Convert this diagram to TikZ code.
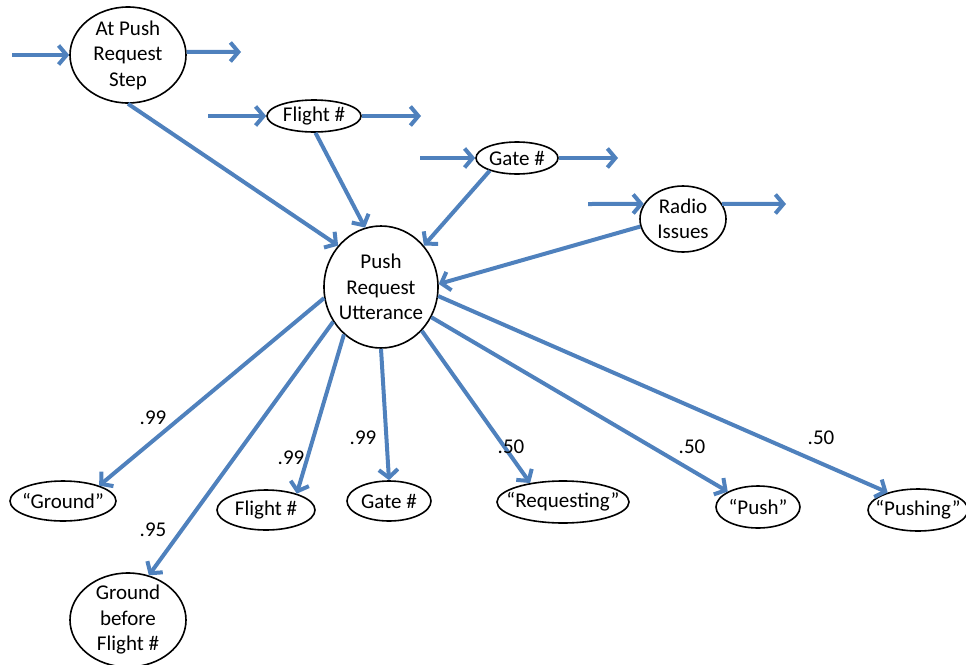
\documentclass[tikz,border=0pt]{standalone}
\usepackage{fontspec}
\setmainfont{Carlito}
\usetikzlibrary{shapes.geometric,arrows.meta}
\definecolor{arr}{HTML}{4F81BD}
\begin{document}
\begin{tikzpicture}[x=1pt,y=-1pt,
  el/.style={draw=black, line width=1.6pt, ellipse, inner sep=0pt, fill=white},
  txt/.style={align=center, inner sep=0pt, font=\fontsize{21}{25.5}\selectfont},
  lab/.style={inner sep=0pt, font=\fontsize{21}{24}\selectfont},
  conn/.style={draw=arr, line width=4pt, -{Straight Barb[length=8pt,width=19pt]}}]
\useasboundingbox (0,0) rectangle (966,664);
\clip (0,0) rectangle (966,664);
% nodes
\node[el, minimum width=116pt, minimum height=96pt] (step) at (128,55) {};
\node[txt] (step-t) at (step) {At Push\\Request\\Step};
\node[el, minimum width=94pt, minimum height=32pt] (fl) at (314,116) {};
\node[txt] (fl-t) at (fl) {Flight \#};
\node[el, minimum width=82pt, minimum height=32pt] (gt) at (517,158) {};
\node[txt] (gt-t) at (gt) {Gate \#};
\node[el, minimum width=86pt, minimum height=66pt] (rad) at (683,219) {};
\node[txt] (rad-t) at (rad) {Radio\\Issues};
\node[el, minimum width=114pt, minimum height=122pt] (pr) at (381,287) {};
\node[txt] (pr-t) at (pr) {Push\\Request\\Utterance};
\node[el, minimum width=106pt, minimum height=40pt] (gr) at (63,501) {};
\node[txt] (gr-t) at (gr) {“Ground”};
\node[el, minimum width=98pt, minimum height=40pt] (fl2) at (266,510) {};
\node[txt] (fl2-t) at (fl2) {Flight \#};
\node[el, minimum width=84pt, minimum height=40pt] (gt2) at (389,501) {};
\node[txt] (gt2-t) at (gt2) {Gate \#};
\node[el, minimum width=132pt, minimum height=42pt] (req) at (563,502) {};
\node[txt] (req-t) at (req) {“Requesting”};
\node[el, minimum width=84pt, minimum height=42pt] (push) at (758,507) {};
\node[txt] (push-t) at (push) {“Push”};
\node[el, minimum width=100pt, minimum height=42pt] (pushing) at (918,510) {};
\node[txt] (pushing-t) at (pushing) {“Pushing”};
\node[el, minimum width=116pt, minimum height=94pt] (gbf) at (128,620) {};
\node[txt] (gbf-t) at (gbf) {Ground\\before\\Flight \#};
% side arrows
\coordinate (step-in) at (12,55);
\coordinate (step-out) at (241,52);
\coordinate (fl-in) at (208,116);
\coordinate (fl-out) at (421,116);
\coordinate (gt-in) at (420,158);
\coordinate (gt-out) at (618,158);
\coordinate (rad-in) at (588,204);
\coordinate (rad-out) at (786,204);
\draw[conn] (step-in) -- (step.west);
\draw[conn] (step.3) -- (step-out);
\draw[conn] (fl-in) -- (fl.west);
\draw[conn] (fl.east) -- (fl-out);
\draw[conn] (gt-in) -- (gt.west);
\draw[conn] (gt.east) -- (gt-out);
\draw[conn] (rad-in) -- (rad.159);
\draw[conn] (rad.21) -- (rad-out);
% into utterance
\draw[conn] (step.south) -- (pr.136);
\draw[conn] (fl.-85) -- (pr.105);
\draw[conn] (gt.205) -- (pr.44);
\draw[conn] (rad.190) -- (pr.3);
% out of utterance
\draw[conn] (pr.191) -- (gr.23);
\draw[conn] (pr.216) -- (gbf.65);
\draw[conn] (pr.232) -- (fl2.28);
\draw[conn] (pr.270) -- (gt2.north);
\draw[conn] (pr.313) -- (req.150);
\draw[conn] (pr.329) -- (push.153);
\draw[conn] (pr.351) -- (pushing.150);
% labels
\node[lab] (l1) at (153,418) {.99};
\node[lab] (l2) at (153,530) {.95};
\node[lab] (l3) at (291,458) {.99};
\node[lab] (l4) at (363,438) {.99};
\node[lab] (l5) at (511,447) {.50};
\node[lab] (l6) at (692,447) {.50};
\node[lab] (l7) at (821,438) {.50};
\end{tikzpicture}
\end{document}
